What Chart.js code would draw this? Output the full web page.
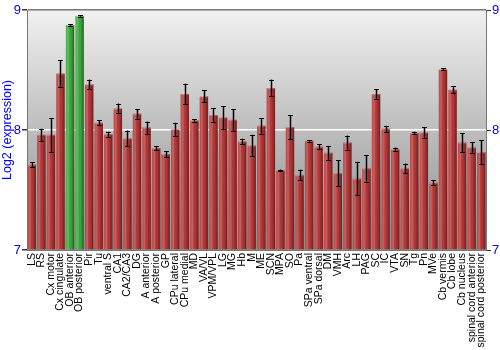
<!DOCTYPE html>
<html>
<head>
<meta charset="utf-8">
<script src="https://cdn.jsdelivr.net/npm/chart.js@4/dist/chart.umd.min.js"></script>
<style>
  html, body { margin: 0; padding: 0; background: #fff; }
  #wrap { width: 500px; height: 350px; }
</style>
</head>
<body>
<div id="wrap"><canvas id="chart"></canvas></div>
<script>
const regions = ['LS', 'RS', 'Cx motor', 'Cx cingulate', 'OB anterior', 'OB posterior', 'Pir', 'Tu',
    'ventral S', 'CA1', 'CA2/CA3', 'DG', 'A anterior', 'A posterior', 'GP', 'CPu lateral', 'CPu medial',
    'MD', 'VA/VL', 'VPM/VPL', 'LG', 'MG', 'Hb', 'M', 'ME', 'SCN', 'MPA', 'SO', 'Pa', 'SPa ventral',
    'SPa dorsal', 'DM', 'VMH', 'Arc', 'LH', 'PAG', 'SC', 'IC', 'VTA', 'SN', 'Tg', 'Pn', 'MVe',
    'Cb vermis', 'Cb lobe', 'Cb nucleus', 'spinal cord anterior', 'spinal cord posterior']

const expression = [7.71, 7.96, 7.96, 8.47, 8.875, 8.95, 8.38, 8.06,
    7.965, 8.18, 7.93, 8.135, 8.02, 7.85, 7.80, 8.005, 8.30,
    8.08, 8.28, 8.125, 8.105, 8.085, 7.905, 7.87, 8.035, 8.35, 7.665, 8.025, 7.625, 7.91,
    7.86, 7.81, 7.64, 7.895, 7.595, 7.68, 8.30, 8.01, 7.84, 7.68, 7.975, 7.98, 7.56,
    8.505, 8.335, 7.895, 7.855, 7.815]

const errors = [0.02, 0.05, 0.14, 0.11, 0.005, 0.005, 0.04, 0.02,
    0.02, 0.04, 0.065, 0.04, 0.05, 0.015, 0.025, 0.055, 0.085,
    0.01, 0.05, 0.055, 0.095, 0.09, 0.022, 0.09, 0.065, 0.07, 0.005, 0.1, 0.045, 0.006,
    0.02, 0.057, 0.11, 0.058, 0.14, 0.11, 0.04, 0.025, 0.013, 0.04, 0.011, 0.045, 0.02,
    0.008, 0.028, 0.077, 0.043, 0.1]

const yTicks = [7, 8, 9]

const blue = '#0000ff'

// grey gradient behind the plot
const backgroundPlugin = {
    id: 'plotBackground',
    beforeDraw(chart) {
        const { ctx, chartArea: a } = chart
        const g = ctx.createLinearGradient(0, a.top, 0, a.bottom)
        g.addColorStop(0, '#f1f1f1')
        g.addColorStop(0.5, '#bdbdbd')
        g.addColorStop(1, '#8e8e8e')
        ctx.save()
        ctx.fillStyle = g
        ctx.fillRect(a.left, a.top, a.right - a.left, a.bottom - a.top)
        ctx.restore()
    }
}

// cylinder shading on bars + error bars
const barExtras = {
    id: 'barExtras',
    afterDatasetsDraw(chart) {
        const { ctx } = chart
        const meta = chart.getDatasetMeta(0)
        const y = chart.scales.y
        ctx.save()
        meta.data.forEach((bar, i) => {
            const left = bar.x - bar.width / 2
            const g = ctx.createLinearGradient(left, 0, left + bar.width, 0)
            g.addColorStop(0, 'rgba(255,255,255,0.10)')
            g.addColorStop(0.3, 'rgba(255,255,255,0.22)')
            g.addColorStop(0.6, 'rgba(0,0,0,0.0)')
            g.addColorStop(1, 'rgba(0,0,0,0.40)')
            ctx.fillStyle = g
            ctx.fillRect(left, bar.y, bar.width, bar.base - bar.y)
            ctx.fillStyle = 'rgba(255,255,255,0.25)'
            ctx.fillRect(left, bar.y, bar.width, 1)
        })
        meta.data.forEach((bar, i) => {
            const top = y.getPixelForValue(expression[i] + errors[i])
            const bot = y.getPixelForValue(expression[i] - errors[i])
            const x = Math.round(bar.x) + 0.5
            ctx.strokeStyle = 'rgba(60,60,60,0.35)'
            ctx.lineWidth = 3
            ctx.beginPath()
            ctx.moveTo(x, top); ctx.lineTo(x, bot)
            ctx.stroke()
            ctx.strokeStyle = '#000'
            ctx.lineWidth = 1
            ctx.beginPath()
            ctx.moveTo(x, top); ctx.lineTo(x, bot)
            ctx.moveTo(x - 2.5, Math.round(top) + 0.5); ctx.lineTo(x + 2.5, Math.round(top) + 0.5)
            ctx.moveTo(x - 2.5, Math.round(bot) + 0.5); ctx.lineTo(x + 2.5, Math.round(bot) + 0.5)
            ctx.stroke()
        })
        ctx.restore()
    }
}

const gridColor = c => {
    if (c.tick && c.tick.value == 8) return '#ffffff'
    if (c.tick && c.tick.value == 9) return '#777777'
    return 'rgba(0,0,0,0)'
}

new Chart(document.getElementById('chart'), {
    type: 'bar',
    data: {
        labels: regions,
        datasets: [{
            label: 'Log2 (expression)',
            data: expression,
            backgroundColor: regions.map(r => r.startsWith('OB') ? '#3aa63a' : '#b53535'),
            borderWidth: 0,
            barPercentage: 0.88,
            categoryPercentage: 1,
            base: 7
        }]
    },
    options: {
        responsive: true,
        maintainAspectRatio: false,
        animation: false,
        layout: { padding: { top: 10, right: 0, left: 0, bottom: 0 } },
        plugins: { legend: { display: false }, tooltip: { enabled: false } },
        scales: {
            x: {
                grid: { display: false, drawTicks: false },
                border: { display: true, color: '#777' },
                ticks: {
                    color: '#000',
                    font: { family: 'Liberation Sans', size: 10.5 },
                    minRotation: 90,
                    maxRotation: 90,
                    autoSkip: false,
                    padding: 3
                },
                afterFit: s => { s.height = 100 }
            },
            y: {
                min: 7,
                max: 9,
                afterBuildTicks: s => { s.ticks = yTicks.map(v => ({ value: v })) },
                grid: { color: gridColor, tickColor: '#333', tickLength: 5, lineWidth: 1.5 },
                border: { display: true, color: '#777' },
                ticks: {
                    color: blue,
                    font: { family: 'Liberation Sans', size: 13 },
                    padding: 1
                },
                title: {
                    display: true,
                    text: 'Log2 (expression)',
                    color: blue,
                    font: { family: 'Liberation Sans', size: 12.5 },
                    padding: 0
                },
                afterFit: s => { s.width = 27 }
            },
            y2: {
                position: 'right',
                min: 7,
                max: 9,
                afterBuildTicks: s => { s.ticks = yTicks.map(v => ({ value: v })) },
                grid: { display: true, drawOnChartArea: false, tickColor: '#333', tickLength: 5 },
                border: { display: true, color: '#777' },
                ticks: {
                    color: blue,
                    font: { family: 'Liberation Sans', size: 13 },
                    padding: 1
                },
                afterFit: s => { s.width = 14 }
            }
        }
    },
    plugins: [backgroundPlugin, barExtras]
});
</script>
</body>
</html>
